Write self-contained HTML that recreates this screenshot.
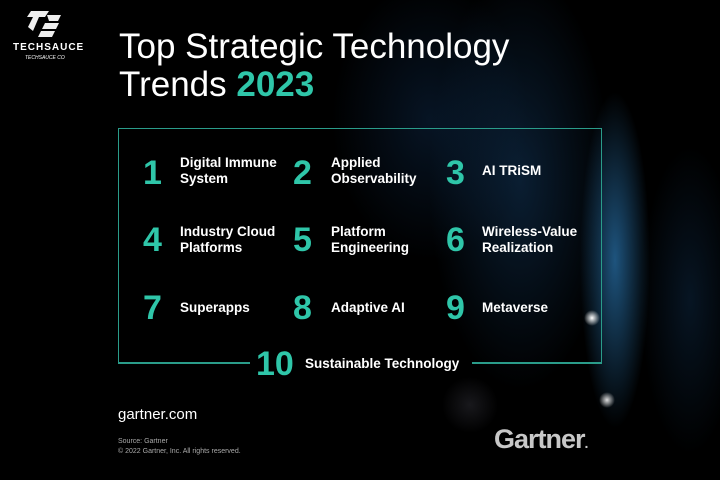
<!DOCTYPE html>
<html><head><meta charset="utf-8"><style>
*{margin:0;padding:0;box-sizing:border-box}
body{width:720px;height:480px;overflow:hidden;background:#000;font-family:"Liberation Sans",sans-serif;color:#fff;position:relative}
.bg{position:absolute;inset:0;background:
radial-gradient(ellipse 50px 240px at 615px 260px,rgba(50,140,210,.6),transparent 70%),
radial-gradient(ellipse 130px 300px at 520px 180px,rgba(20,60,100,.5),transparent 70%),
radial-gradient(ellipse 140px 200px at 430px 120px,rgba(15,45,80,.45),transparent 70%),
radial-gradient(ellipse 70px 220px at 690px 300px,rgba(20,60,100,.35),transparent 70%),
radial-gradient(ellipse 40px 40px at 470px 405px,rgba(60,60,70,.4),transparent 70%);}
.a{position:absolute;white-space:nowrap}
.n{position:absolute;color:#2fc6a9;font-weight:900;font-size:34px;line-height:34px}
.t{position:absolute;font-weight:bold;font-size:13.5px;line-height:16px}
.box{position:absolute;left:118px;top:128px;width:484px;height:235px;border:1.5px solid #2a9c8a;border-bottom:none}
.bl{position:absolute;top:362px;height:1.5px;background:#2a9c8a}
</style></head><body>
<div class="bg"></div>
<svg class="a" style="left:27px;top:7px" width="36" height="32" viewBox="0 0 36 32"><path d="M4 4h18l-4 6H12l-6 14-5-4 5-10H0z M20 8h14l-3 6h-9z M18 16h14l-3 6H15z M14 24h14l-3 6H11z" fill="#eee"/></svg>
<div class="a" style="left:13px;top:42px;font-size:10px;font-weight:bold;letter-spacing:1px">TECHSAUCE</div>
<div class="a" style="left:25px;top:55px;font-size:5px;font-style:italic">TECHSAUCE CO</div>
<div class="a" style="left:119px;top:28px;font-size:35px;line-height:38px">Top Strategic Technology<br>Trends <b style="color:#2fc6a9">2023</b></div>
<div class="box"></div>
<div class="bl" style="left:118px;width:132px"></div>
<div class="bl" style="left:472px;width:130px"></div>
<div class="n" style="left:143px;top:156px">1</div><div class="t" style="left:180px;top:155px">Digital Immune<br>System</div>
<div class="n" style="left:293px;top:156px">2</div><div class="t" style="left:331px;top:155px">Applied<br>Observability</div>
<div class="n" style="left:446px;top:156px">3</div><div class="t" style="left:482px;top:163px">AI TRiSM</div>
<div class="n" style="left:143px;top:223px">4</div><div class="t" style="left:180px;top:224px">Industry Cloud<br>Platforms</div>
<div class="n" style="left:293px;top:223px">5</div><div class="t" style="left:331px;top:224px">Platform<br>Engineering</div>
<div class="n" style="left:446px;top:223px">6</div><div class="t" style="left:482px;top:224px">Wireless-Value<br>Realization</div>
<div class="n" style="left:143px;top:291px">7</div><div class="t" style="left:180px;top:300px">Superapps</div>
<div class="n" style="left:293px;top:291px">8</div><div class="t" style="left:331px;top:300px">Adaptive AI</div>
<div class="n" style="left:446px;top:291px">9</div><div class="t" style="left:482px;top:300px">Metaverse</div>
<div class="n" style="left:256px;top:347px">10</div><div class="t" style="left:305px;top:356px">Sustainable Technology</div>
<div class="a" style="left:118px;top:406px;font-size:15px">gartner.com</div>
<div class="a" style="left:118px;top:437px;font-size:7px;color:#aaa;line-height:10px">Source: Gartner<br>© 2022 Gartner, Inc. All rights reserved.</div>
<div class="a" style="left:494px;top:424px;font-size:27px;font-weight:bold;color:#c8c8c8;letter-spacing:-1px">Gartner<span style="font-size:14px">.</span></div>
<div class="a" style="left:584px;top:310px;width:16px;height:16px;border-radius:50%;background:radial-gradient(#fff,rgba(255,255,255,0) 70%)"></div>
<div class="a" style="left:599px;top:392px;width:16px;height:16px;border-radius:50%;background:radial-gradient(#ddd,rgba(255,255,255,0) 70%)"></div>
</body></html>
